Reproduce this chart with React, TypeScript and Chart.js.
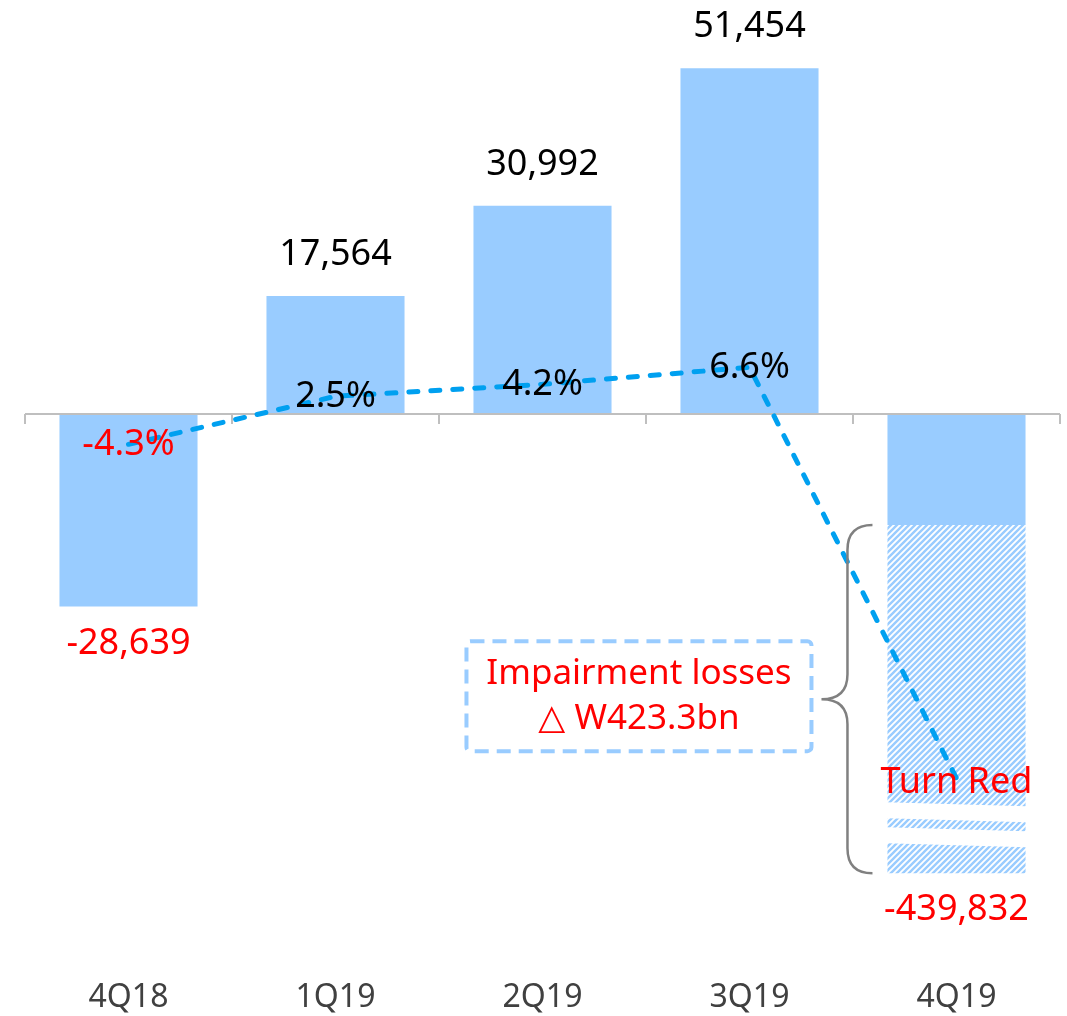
import { useEffect, useRef } from 'react';
import { Chart, registerables } from 'chart.js';

Chart.register(...registerables);

// ---- data ----
const categories = ['4Q18', '1Q19', '2Q19', '3Q19', '4Q19'];
// Net income (KRW mn). 4Q19 solid part = loss excluding impairment (-439,832 + 423,300)
const netIncomeBars: (number | null)[] = [-28639, 17564, 30992, 51454, -16532];
// Impairment part of 4Q19, drawn on a broken (compressed) axis
const impairmentBars: (number | null)[] = [null, null, null, null, -51800];
const netIncomeLabels = ['-28,639', '17,564', '30,992', '51,454', '-439,832'];
// ROE (%), last point drawn on the broken axis
const roeValues = [-4.3, 2.5, 4.2, 6.6, -51.6];
const roeLabels = ['-4.3%', '2.5%', '4.2%', '6.6%', 'Turn Red'];
const calloutLines = ['Impairment losses', '\u25B3 W423.3bn'];

const BAR_BLUE = '#99CCFF';
const LINE_BLUE = '#00A0F0';
const RED = '#FF0000';
const FONT = '"Noto Sans", "DejaVu Sans", sans-serif';

function makeHatch(): CanvasPattern | string {
  const s = 6;
  const c = document.createElement('canvas');
  c.width = s;
  c.height = s;
  const g = c.getContext('2d');
  if (!g) return BAR_BLUE;
  g.fillStyle = '#ffffff';
  g.fillRect(0, 0, s, s);
  g.strokeStyle = BAR_BLUE;
  g.lineWidth = 2.4;
  g.beginPath();
  g.moveTo(0, s);
  g.lineTo(s, 0);
  g.moveTo(-2, 2);
  g.lineTo(2, -2);
  g.moveTo(s - 2, s + 2);
  g.lineTo(s + 2, s - 2);
  g.stroke();
  return g.createPattern(c, 'repeat') || BAR_BLUE;
}

const overlayPlugin = {
  id: 'overlay',
  beforeDatasetDraw(chart: any, args: any) {
    if (args.meta.type !== 'line') return;
    const { ctx, chartArea, scales } = chart;
    const y0 = scales.y.getPixelForValue(0);
    ctx.save();
    // zero axis with category tick marks
    ctx.strokeStyle = '#BFBFBF';
    ctx.lineWidth = 2;
    ctx.beginPath();
    ctx.moveTo(chartArea.left, y0);
    ctx.lineTo(chartArea.right, y0);
    const n = categories.length;
    for (let i = 0; i <= n; i++) {
      const x = chartArea.left + ((chartArea.right - chartArea.left) * i) / n;
      ctx.moveTo(x, y0);
      ctx.lineTo(x, y0 + 10);
    }
    ctx.stroke();
    // axis breaks on the hatched bar
    const meta1 = chart.getDatasetMeta(1);
    const el = meta1.data[4];
    if (el) {
      const left = el.x - el.width / 2 - 1;
      const right = el.x + el.width / 2 + 1;
      const bottom = el.y;
      ctx.fillStyle = '#ffffff';
      const bands = [
        [71, 55],
        [46, 30],
      ];
      for (const [a, b] of bands) {
        ctx.beginPath();
        ctx.moveTo(left, bottom - a);
        ctx.lineTo(right, bottom - a + 4);
        ctx.lineTo(right, bottom - b + 4);
        ctx.lineTo(left, bottom - b);
        ctx.closePath();
        ctx.fill();
      }
    }
    ctx.restore();
  },
  afterDatasetsDraw(chart: any) {
    const { ctx } = chart;
    const m0 = chart.getDatasetMeta(0);
    const m1 = chart.getDatasetMeta(1);
    const ml = chart.getDatasetMeta(2);
    ctx.save();
    ctx.textAlign = 'center';
    ctx.textBaseline = 'middle';
    ctx.font = `36px ${FONT}`;
    categories.forEach((_, i) => {
      const useImp = impairmentBars[i] != null;
      const el = (useImp ? m1 : m0).data[i];
      if (!el) return;
      const total = (netIncomeBars[i] ?? 0) + (impairmentBars[i] ?? 0);
      const neg = total < 0;
      ctx.fillStyle = neg ? RED : '#000000';
      ctx.fillText(netIncomeLabels[i], el.x, neg ? el.y + 37 : el.y - 41);
    });
    ml.data.forEach((p: any, i: number) => {
      ctx.fillStyle = roeValues[i] < 0 ? RED : '#000000';
      ctx.fillText(roeLabels[i], p.x, p.y + (i === 4 ? 4 : 0));
    });

    // brace + callout
    const el = m1.data[4];
    if (el) {
      const left = el.x - el.width / 2;
      const top = el.base;
      const bot = el.y;
      const mid = (top + bot) / 2;
      const xr = left - 15;
      const xv = left - 40;
      const xt = left - 66;
      const r = 25;
      ctx.strokeStyle = '#808080';
      ctx.lineWidth = 2.5;
      ctx.setLineDash([]);
      ctx.beginPath();
      ctx.moveTo(xr, top);
      ctx.quadraticCurveTo(xv, top, xv, top + r);
      ctx.lineTo(xv, mid - r);
      ctx.quadraticCurveTo(xv, mid, xt, mid);
      ctx.quadraticCurveTo(xv, mid, xv, mid + r);
      ctx.lineTo(xv, bot - r);
      ctx.quadraticCurveTo(xv, bot, xr, bot);
      ctx.stroke();

      const bw = 345;
      const bh = 110;
      const bx = xt - 10 - bw;
      const by = mid - 58;
      ctx.strokeStyle = BAR_BLUE;
      ctx.lineWidth = 4;
      ctx.setLineDash([14, 8]);
      ctx.beginPath();
      if ((ctx as any).roundRect) (ctx as any).roundRect(bx, by, bw, bh, 4);
      else ctx.rect(bx, by, bw, bh);
      ctx.stroke();
      ctx.setLineDash([]);
      ctx.fillStyle = RED;
      ctx.font = `35px ${FONT}`;
      ctx.fillText(calloutLines[0], bx + bw / 2, by + 33);
      ctx.fillText(calloutLines[1], bx + bw / 2, by + 78);
    }
    ctx.restore();
  },
};

export default function App() {
  const ref = useRef<HTMLCanvasElement | null>(null);
  useEffect(() => {
    if (!ref.current) return;
    const hatch = makeHatch();
    const chart = new Chart(ref.current, {
      type: 'bar',
      data: {
        labels: categories,
        datasets: [
          {
            type: 'bar',
            label: 'Net income',
            data: netIncomeBars,
            backgroundColor: BAR_BLUE,
            borderWidth: 0,
            stack: 's',
            order: 1,
            categoryPercentage: 1,
            barPercentage: 0.667,
          } as any,
          {
            type: 'bar',
            label: 'Impairment',
            data: impairmentBars,
            backgroundColor: hatch,
            borderWidth: 0,
            stack: 's',
            order: 1,
            categoryPercentage: 1,
            barPercentage: 0.667,
          } as any,
          {
            type: 'line',
            label: 'ROE',
            data: roeValues,
            yAxisID: 'y2',
            borderColor: LINE_BLUE,
            borderWidth: 5,
            borderDash: [9, 13],
            borderCapStyle: 'round',
            pointRadius: 0,
            tension: 0,
            fill: false,
            order: 0,
          } as any,
        ],
      },
      options: {
        responsive: false,
        animation: false,
        devicePixelRatio: 1,
        layout: { padding: { left: 25, right: 7, top: 0, bottom: 0 } },
        plugins: { legend: { display: false }, tooltip: { enabled: false } },
        scales: {
          x: {
            stacked: true,
            grid: { display: false },
            border: { display: false },
            afterFit: (scale: any) => {
              scale.height = 56;
            },
            ticks: {
              font: { family: 'Noto Sans', size: 32 },
              color: '#404040',
              padding: 11,
              maxRotation: 0,
            },
          },
          y: {
            display: false,
            stacked: true,
            min: -81250,
            max: 61600,
          },
          y2: {
            display: false,
            min: -77.3,
            max: 58.6,
          },
        },
      },
      plugins: [overlayPlugin],
    });
    return () => chart.destroy();
  }, []);
  return (
    <div style={{ position: 'absolute', left: 0, top: 0, width: 1067, height: 1016, background: '#fff' }}>
      <canvas ref={ref} width={1067} height={1016} style={{ display: 'block' }} />
    </div>
  );
}
